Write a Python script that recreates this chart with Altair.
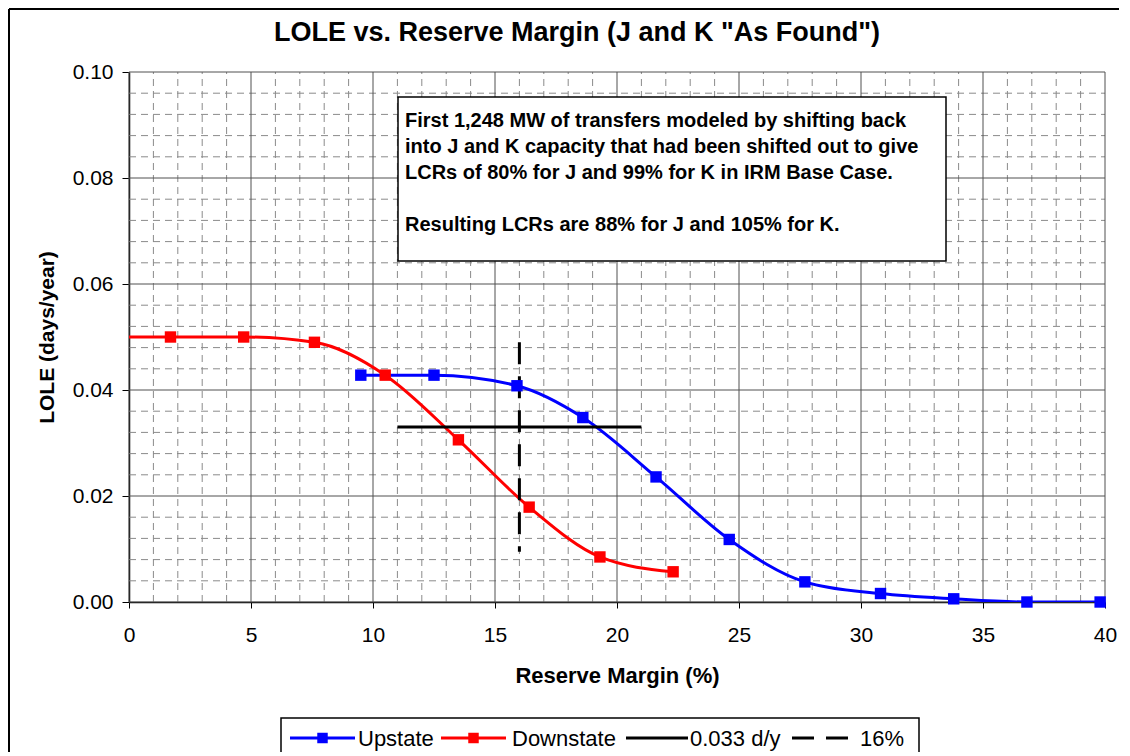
import altair as alt
import pandas as pd

# ---------------- data ----------------
up_x = [9.5, 12.5, 15.9, 18.6, 21.6, 24.6, 27.7, 30.8, 33.8, 36.8, 39.8]
up_y = [0.0428, 0.0428, 0.0408, 0.0348, 0.0236, 0.0118, 0.0038, 0.0016, 0.0006, 0.0, 0.0]
down_x = [-1.2, 1.7, 4.7, 7.6, 10.5, 13.5, 16.4, 19.3, 22.3]
down_y = [0.05, 0.05, 0.05, 0.049, 0.0428, 0.0306, 0.0179, 0.0085, 0.0057]

lole_target = 0.033
lole_line_x = [11, 21]
margin_target = 16
margin_line_y = [0.0095, 0.049]

series_names = ["Upstate", "Downstate", "0.033 d/y", "16%"]
series_colors = ["#0000FF", "#FF0000", "#000000", "#000000"]

x_major = [0, 5, 10, 15, 20, 25, 30, 35, 40]
x_minor = [v for v in range(0, 41) if v % 5 != 0]
y_major = [0.0, 0.02, 0.04, 0.06, 0.08, 0.1]
y_minor = [round(i * 0.004, 3) for i in range(26) if i % 5 != 0]

title_text = 'LOLE vs. Reserve Margin (J and K "As Found")'
note_lines_1 = ["First 1,248 MW of transfers modeled by shifting back",
                "into J and K capacity that had been shifted out to give",
                "LCRs of 80% for J and 99% for K in IRM Base Case."]
note_line_2 = "Resulting LCRs are 88% for J and 105% for K."

FONT = "Liberation Sans"
W, H = 976, 530

curves = pd.DataFrame({
    "x": up_x + down_x,
    "y": up_y + down_y,
    "series": ["Upstate"] * len(up_x) + ["Downstate"] * len(down_x),
})

xs = alt.Scale(domain=[0, 40], nice=False, zero=False)
ys = alt.Scale(domain=[0, 0.1], nice=False, zero=False)
cs = alt.Scale(domain=series_names, range=series_colors)

x_axis = alt.Axis(
    values=x_major, title="Reserve Margin (%)", grid=False,
    labelFont=FONT, labelFontSize=21, labelColor="#000", labelPadding=16,
    labelOverlap=False, labelFlush=False,
    titleFont=FONT, titleFontSize=22, titleFontWeight="bold", titleColor="#000",
    titlePadding=20,
    domainColor="#000", domainWidth=1.5, tickColor="#000", tickSize=6, tickWidth=1,
)
y_axis = alt.Axis(
    values=y_major, title="LOLE (days/year)", grid=False, format=".2f",
    labelFont=FONT, labelFontSize=21, labelColor="#000", labelPadding=9,
    labelOverlap=False, labelFlush=False,
    titleFont=FONT, titleFontSize=21, titleFontWeight="bold", titleColor="#000",
    titlePadding=15,
    domainColor="#000", domainWidth=1.5, tickColor="#000", tickSize=7, tickWidth=1,
)


def X(field="x:Q"):
    return alt.X(field, scale=xs, axis=x_axis)


def Y(field="y:Q"):
    return alt.Y(field, scale=ys, axis=y_axis)


# ---------------- grid ----------------
vmin = alt.Chart(pd.DataFrame({"x": x_minor})).mark_rule(
    color="#8a8a8a", strokeWidth=1, strokeDash=[7, 5]).encode(
    x=X(), y=alt.value(H), y2=alt.value(0))
vmaj = alt.Chart(pd.DataFrame({"x": x_major})).mark_rule(
    color="#505050", strokeWidth=1).encode(
    x=X(), y=alt.value(H), y2=alt.value(0))
hmin = alt.Chart(pd.DataFrame({"y": y_minor})).mark_rule(
    color="#8a8a8a", strokeWidth=1, strokeDash=[7, 5]).encode(
    y=Y(), x=alt.value(0), x2=alt.value(W))
hmaj = alt.Chart(pd.DataFrame({"y": y_major})).mark_rule(
    color="#505050", strokeWidth=1).encode(
    y=Y(), x=alt.value(0), x2=alt.value(W))

# ---------------- series ----------------
lines = alt.Chart(curves).mark_line(clip=True, interpolate="monotone", strokeWidth=3).encode(
    x=X(), y=Y(),
    color=alt.Color("series:N", scale=cs, legend=None),
    detail="series:N",
)
points = alt.Chart(curves).transform_filter("datum.x >= 0").mark_point(
    shape="square", filled=True, size=130, opacity=1).encode(
    x=X(), y=Y(),
    color=alt.Color("series:N", scale=cs, legend=None),
)

hline_df = pd.DataFrame({"x": [lole_line_x[0]], "x2": [lole_line_x[1]], "y": [lole_target]})
hline = alt.Chart(hline_df).mark_rule(color="#000", strokeWidth=3).encode(
    x=X(), x2="x2:Q", y=Y())
vline_df = pd.DataFrame({"x": [margin_target], "y": [margin_line_y[1]], "y2": [margin_line_y[0]]})
vline = alt.Chart(vline_df).mark_rule(color="#000", strokeWidth=3, strokeDash=[22, 12]).encode(
    x=X(), y=Y(), y2="y2:Q")

one = pd.DataFrame({"k": [0]})

# note box
note_box = alt.Chart(one).mark_rect(fill="white", stroke="#000", strokeWidth=1.5).encode(
    x=alt.value(269), x2=alt.value(817), y=alt.value(25), y2=alt.value(189))
note1 = alt.Chart(one).mark_text(
    text=note_lines_1, align="left", baseline="middle", font=FONT, fontSize=20,
    fontWeight="bold", lineHeight=26, color="#000").encode(x=alt.value(276), y=alt.value(49))
note2 = alt.Chart(one).mark_text(
    text=note_line_2, align="left", baseline="middle", font=FONT, fontSize=20,
    fontWeight="bold", color="#000").encode(x=alt.value(276), y=alt.value(153))

title = alt.Chart(one).mark_text(
    text=title_text, align="center", baseline="middle", font=FONT, fontSize=27,
    fontWeight="bold", color="#000").encode(x=alt.value(448), y=alt.value(-39))

# outer chart border (left and top)
border_l = alt.Chart(one).mark_rule(color="#000", strokeWidth=2).encode(
    x=alt.value(-120), y=alt.value(-63), y2=alt.value(800))
border_t = alt.Chart(one).mark_rule(color="#000", strokeWidth=2).encode(
    x=alt.value(-120), x2=alt.value(1100), y=alt.value(-63))

# legend (drawn manually)
LY = 666
leg_box = alt.Chart(one).mark_rect(fill="white", stroke="#000", strokeWidth=1.5).encode(
    x=alt.value(152), x2=alt.value(790), y=alt.value(646), y2=alt.value(760))
leg_line_x = [(161, 226), (312, 377), (497, 559), (663, 724)]
leg_text_x = [229, 383, 561, 731]
leg_layers = []
for i, name in enumerate(series_names):
    x1, x2 = leg_line_x[i]
    dash = [22, 12] if name == "16%" else [1, 0]
    leg_layers.append(alt.Chart(one).mark_rule(color=series_colors[i], strokeWidth=3,
                                               strokeDash=dash).encode(
        x=alt.value(x1), x2=alt.value(x2), y=alt.value(LY)))
    if i < 2:
        leg_layers.append(alt.Chart(one).mark_point(shape="square", filled=True, size=110,
                                                    opacity=1, color=series_colors[i]).encode(
            x=alt.value((x1 + x2) / 2), y=alt.value(LY)))
    leg_layers.append(alt.Chart(one).mark_text(text=name, align="left", baseline="middle",
                                               font=FONT, fontSize=22, color="#000").encode(
        x=alt.value(leg_text_x[i]), y=alt.value(LY + 1)))

chart = alt.layer(
    vmin, hmin, vmaj, hmaj, lines, hline, vline, points, note_box, note1, note2, title,
    border_l, border_t, leg_box, *leg_layers
).properties(
    width=W, height=H,
    autosize=alt.AutoSizeParams(type="none"),
    padding={"left": 121, "top": 64, "right": 14, "bottom": 150},
).configure_view(stroke=None)

chart.save("out.html", embed_options={"renderer": "svg", "actions": False})
